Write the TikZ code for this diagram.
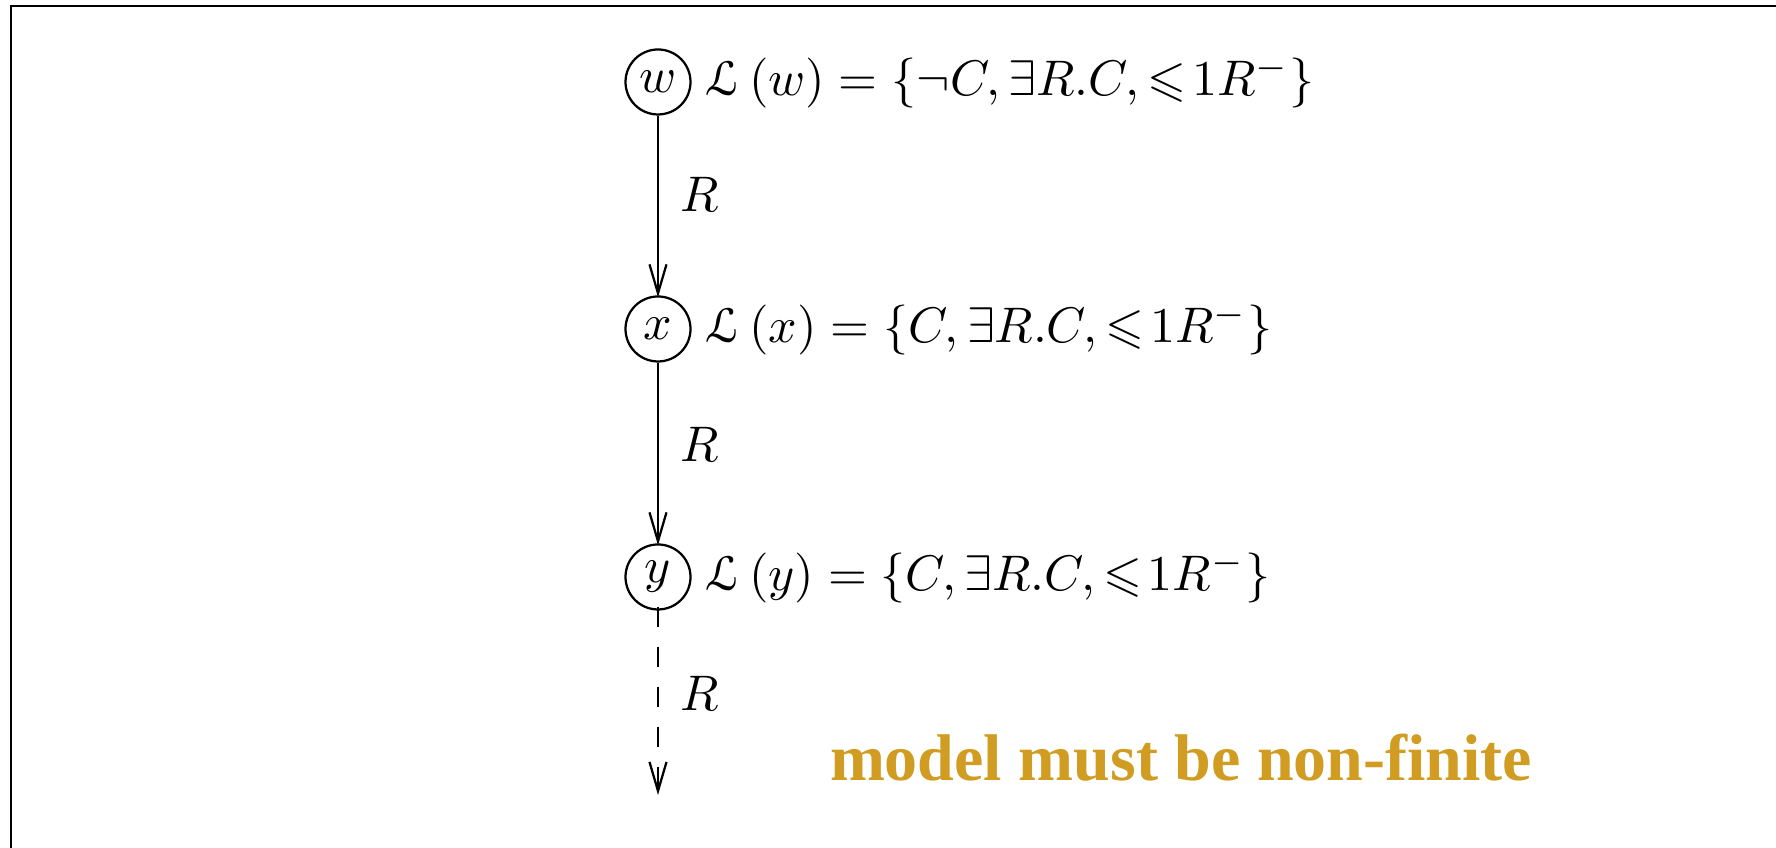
\documentclass[tikz,border=0pt]{standalone}
\usepackage{amsmath,amssymb}
\usepackage{fontspec}
\DeclareMathAlphabet{\euscr}{U}{eus}{m}{n}
\newfontfamily\notefont{Liberation Serif}
\usetikzlibrary{arrows.meta}
\definecolor{noteorange}{RGB}{208,156,34}
\tikzset{
  state/.style={circle,draw,line width=0.45pt,minimum size=13pt,inner sep=0pt,font=\fontsize{10}{12}\selectfont},
  labeltext/.style={anchor=west,inner sep=0pt,font=\fontsize{10}{12}\selectfont},
  edgelabel/.style={inner sep=0pt,font=\fontsize{10}{12}\selectfont},
  rel/.style={line width=0.45pt,shorten >=-0.4pt,-{Straight Barb[length=5.8pt,width=3.4pt]}},
  frame/.style={line width=0.5pt}
}
\begin{document}
\begin{tikzpicture}[x=0.2pt,y=-0.2pt]
\useasboundingbox (0,0) rectangle (1776,848);
\draw[frame] (11,848) -- (11,6) -- (1776,6);
\node[state] (w) at (658,82) {$w$};
\node[state] (x) at (658,329) {$x$};
\node[state] (y) at (658,577) {$y$};
\node[labeltext] (lw) at (704,82) {$\euscr{L}\,(w) = \{\neg C, \exists R.C, \leqslant\!1 R^-\}$};
\node[labeltext] (lx) at (704,329) {$\euscr{L}\,(x) = \{C, \exists R.C, \leqslant\!1 R^-\}$};
\node[labeltext] (ly) at (704,577) {$\euscr{L}\,(y) = \{C, \exists R.C, \leqslant\!1 R^-\}$};
\coordinate (end) at (658,793);
\draw[rel] (w) -- (x);
\draw[rel] (x) -- (y);
\draw[rel,dash pattern=on 4pt off 4pt] (y.south) ++(0,-4) -- (end);
\node[edgelabel] (r1) at (700,194) {$R$};
\node[edgelabel] (r2) at (700,444) {$R$};
\node[edgelabel] (r3) at (700,693) {$R$};
\node[anchor=base west,inner sep=0pt,text=noteorange,font=\notefont\bfseries\fontsize{13.2}{15}\selectfont] (note) at (829,781) {model must be non-finite};
\end{tikzpicture}
\end{document}
